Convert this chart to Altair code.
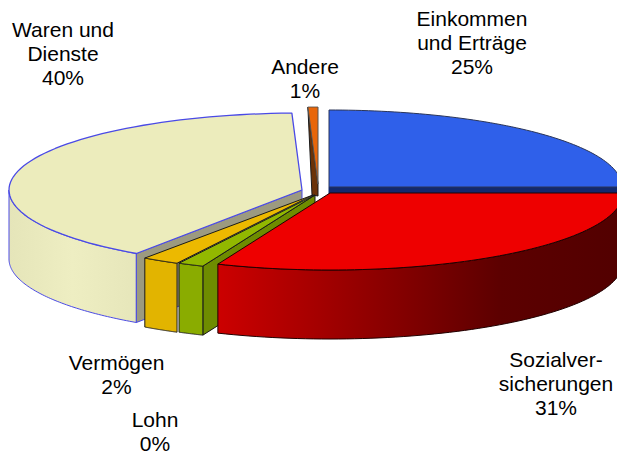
import math
import altair as alt
import pandas as pd

# ---- data ----
names = ["Einkommen und Erträge", "Sozialversicherungen", "Lohn", "Vermögen", "Waren und Dienste", "Andere"]
shares = [25, 31.25, 1.43, 2.05, 39.72, 0.55]   # drawn size of each slice, percent
label_lines = [
    ["Einkommen", "und Erträge", "25%"],
    ["Sozialver-", "sicherungen", "31%"],
    ["Lohn", "0%"],
    ["Vermögen", "2%"],
    ["Waren und", "Dienste", "40%"],
    ["Andere", "1%"],
]

# ---- layout ----
label_x = [472, 556, 155, 116.5, 63, 305]
label_y = [19.5, 361, 421, 364, 31, 68]
line_h = 24.2
centres = [(329, 187), (330, 193), (315, 195), (313, 195), (302, 190), (318, 184)]
start_shift = {4: -0.6}   # Waren's cut edge sits a little behind Vermögen's
RX, RY, DEPTH = 293, 77, 69
W, H = 609, 450

bounds = [0]
for s in shares:
    bounds.append(bounds[-1] + s * 3.6)
starts = [bounds[i] + start_shift.get(i, 0) for i in range(len(shares))]


def pt(i, deg, drop=0):
    cx, cy = centres[i]
    a = math.radians(deg)
    return (cx + RX * math.sin(a), cy - RY * math.cos(a) + drop)


def arc(i, a, b, drop=0, n=70):
    return [pt(i, a + (b - a) * k / n, drop) for k in range(n + 1)]


def top(i):
    return [centres[i]] + arc(i, starts[i], bounds[i + 1])


def outer_wall(i, a, b, depth=DEPTH):
    return arc(i, a, b) + arc(i, b, a, depth)


def radial_wall(i, deg, depth=DEPTH):
    cx, cy = centres[i]
    o = pt(i, deg)
    return [(cx, cy), o, (o[0], o[1] + depth), (cx, cy + depth)]


x_scale = alt.Scale(domain=[8, 8 + W], range=[0, W], nice=False, zero=False)
y_scale = alt.Scale(domain=[8 + H, 8], range=[H, 0], nice=False, zero=False)


def hgrad(*stops):
    return alt.Gradient(
        gradient="linear", x1=0, x2=1, y1=0, y2=0,
        stops=[alt.GradientStop(offset=o, color=c) for o, c in stops],
    )


def poly(points, fill, stroke, sw=1.0):
    pts = list(points) + [points[0]]
    df = pd.DataFrame({"px": [p[0] for p in pts], "py": [p[1] for p in pts], "i": list(range(len(pts)))})
    return alt.Chart(df).mark_line(fill=fill, stroke=stroke, strokeWidth=sw, strokeJoin="round").encode(
        x=alt.X("px:Q", scale=x_scale, axis=None),
        y=alt.Y("py:Q", scale=y_scale, axis=None),
        order="i:Q",
    )


BLUE_LINE = "#4a4ae6"
DARK = "#1a1a1a"
B = bounds
layers = [
    # Andere
    poly([pt(5, B[5]), centres[5], (centres[5][0], centres[5][1] + 12), (312, 195)], "#6b3208", DARK),
    poly(top(5), "#e8660a", "#555555"),
    # Einkommen
    poly(radial_wall(0, B[1], 41), "#12296e", "#12296e"),
    poly(top(0), "#2f60ea", "#2a3558"),
    # Waren
    poly(outer_wall(4, starts[4], 270), hgrad((0, "#e5e5b9"), (0.5, "#eeeec2"), (1, "#e6e6ba")), BLUE_LINE),
    poly(radial_wall(4, starts[4]), "#9c9a80", BLUE_LINE),
    poly(top(4), "#ececbc", BLUE_LINE, 1.3),
    # Vermögen
    poly(outer_wall(3, B[3], B[4]), "#e2b400", DARK),
    poly(top(3), "#ecb900", DARK),
    # Lohn
    poly(radial_wall(2, B[2]), "#6e8c00", DARK),
    poly(outer_wall(2, B[2], B[3]), "#8aac00", DARK),
    poly(top(2), "#92b800", DARK),
    # Sozialversicherungen
    poly(outer_wall(1, B[1], B[2]), hgrad((0, "#cc0000"), (0.7, "#5c0000"), (1, "#520000")), "#200000"),
    poly(top(1), "#ee0000", "#200000"),
]

rows = []
for lines, lx, ly in zip(label_lines, label_x, label_y):
    for k, t in enumerate(lines):
        rows.append({"t": t, "px": lx, "py": ly + k * line_h})
text = alt.Chart(pd.DataFrame(rows)).mark_text(
    font="Liberation Sans", fontSize=21, color="#000000", align="center", baseline="middle"
).encode(
    x=alt.X("px:Q", scale=x_scale, axis=None),
    y=alt.Y("py:Q", scale=y_scale, axis=None),
    text="t:N",
)

chart = alt.layer(*layers, text).properties(
    width=W, height=H, padding=0, autosize=alt.AutoSizeParams(type="none")
).configure_view(stroke=None)

chart.save("out.html", embed_options={"renderer": "svg", "actions": False})
